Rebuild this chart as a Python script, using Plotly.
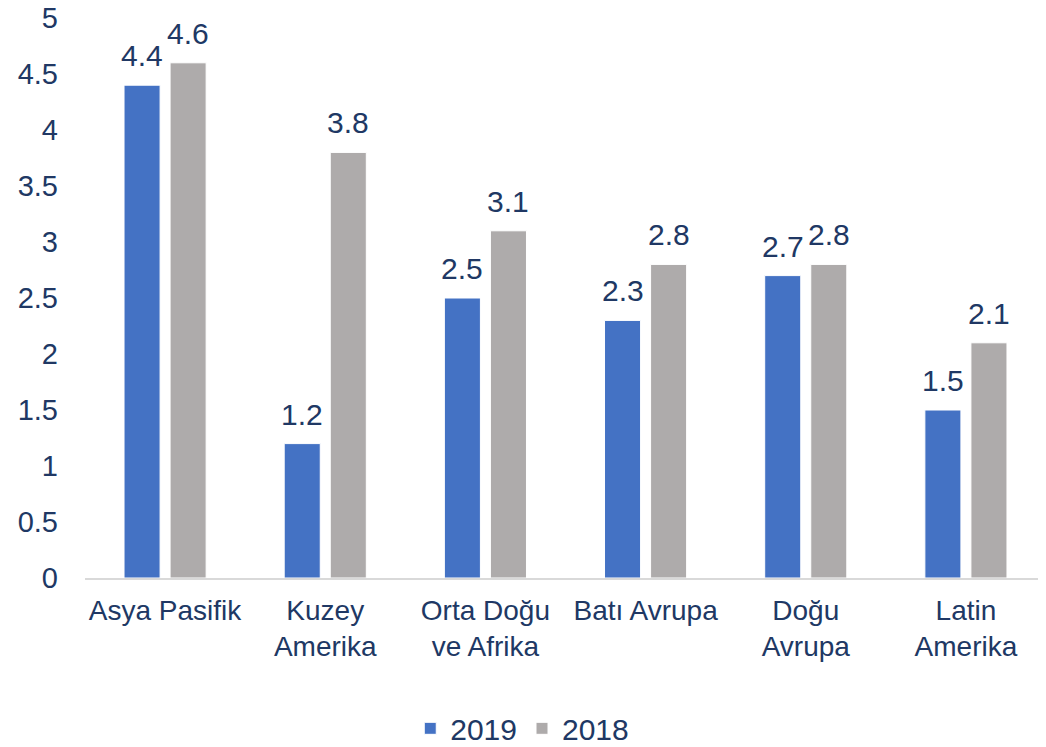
import plotly.graph_objects as go

regions = ['Asya Pasifik', 'Kuzey<br>Amerika', 'Orta Doğu<br>ve Afrika', 'Batı Avrupa', 'Doğu<br>Avrupa', 'Latin<br>Amerika']
values_2019 = [4.4, 1.2, 2.5, 2.3, 2.7, 1.5]
values_2018 = [4.6, 3.8, 3.1, 2.8, 2.8, 2.1]
y_ticks = [0, 0.5, 1, 1.5, 2, 2.5, 3, 3.5, 4, 4.5, 5]

text_color = '#203864'
font_family = 'Liberation Sans, Arial, sans-serif'

fig = go.Figure()
fig.add_trace(go.Bar(name='2019', x=regions, y=values_2019,
                     marker=dict(color='#4472C4', line=dict(color='white', width=1))))
fig.add_trace(go.Bar(name='2018', x=regions, y=values_2018,
                     marker=dict(color='#AEABAB', line=dict(color='white', width=1))))

# data labels above bars, offset to each bar of the group
for vals, shift in [(values_2019, -23), (values_2018, 23)]:
    for r, v in zip(regions, vals):
        fig.add_annotation(x=r, y=v, text=f'{v:g}', showarrow=False,
                           xanchor='center', yanchor='bottom', xshift=shift, yshift=11,
                           font=dict(size=30, color=text_color, family=font_family))

# page body adds 8px, so the figure is a little smaller than the window
fig.update_layout(
    width=1038, height=739,
    margin=dict(l=77, r=0, t=10, b=169, autoexpand=False),
    paper_bgcolor='white', plot_bgcolor='white',
    barmode='group', bargap=0.425, bargroupgap=0.217,
    font=dict(family=font_family, color=text_color, size=28),
    showlegend=True,
    legend=dict(orientation='h', x=0.455, xanchor='center', y=-0.222, yanchor='top',
                font=dict(size=30, color=text_color), itemwidth=30, tracegroupgap=0),
)
fig.update_yaxes(range=[0, 5], tickvals=y_ticks, ticktext=[f'{t:g}' for t in y_ticks],
                 showgrid=False, zeroline=False, showline=False, ticks='',
                 ticklabelstandoff=26, ticklabeloverflow='allow', automargin=False,
                 tickfont=dict(size=29, color=text_color))
fig.update_xaxes(showline=True, linecolor='#D9D9D9', linewidth=2, ticks='',
                 automargin=False, ticklabelstandoff=6,
                 tickfont=dict(size=28, color=text_color))

fig.write_html('out.html')
